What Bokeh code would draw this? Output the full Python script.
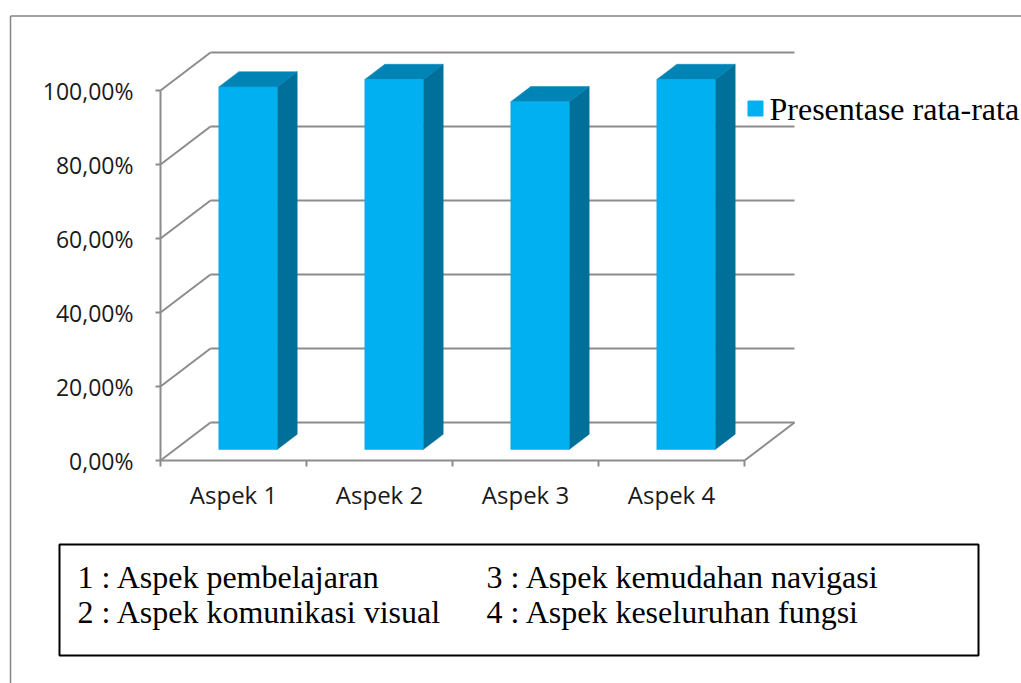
from bokeh.plotting import figure
from bokeh.models import Range1d, ColumnDataSource
from bokeh.core.properties import value
from bokeh.embed import file_html
from bokeh.resources import INLINE

# ---------------- data ----------------
categories = ["Aspek 1", "Aspek 2", "Aspek 3", "Aspek 4"]
percentages = [98.0, 100.0, 94.0, 100.0]
y_ticks = [0, 20, 40, 60, 80, 100]
y_tick_labels = ["0,00%", "20,00%", "40,00%", "60,00%", "80,00%", "100,00%"]
series_name = "Presentase rata-rata"
note_col1 = ["1 : Aspek pembelajaran", "2 : Aspek komunikasi visual"]
note_col2 = ["3 : Aspek kemudahan navigasi", "4 : Aspek keseluruhan fungsi"]

# ---------------- layout ----------------
W, H = 1021, 683
OFF = 0
X0, UX = 160.0, 146.0     # px of category origin, px per category
Y0, UY = 460.0, 3.7       # px of 0 %, px per percent
DX, DY = 50.0 / UX, 38.0 / UY  # depth offsets (data units)
D1, D2 = 0.29, 0.69       # bar front/back depth fraction
HW = 0.2                  # bar half width (category units)

def dx(px):
    return (px - X0) / UX

def dy(py):
    return (Y0 - py) / UY

p = figure(width=W, height=H, output_backend="svg", toolbar_location=None,
           x_range=Range1d(dx(OFF), dx(OFF + W)),
           y_range=Range1d(dy(OFF + H), dy(OFF)),
           x_axis_location=None, y_axis_location=None,
           min_border=0, min_border_left=0, min_border_right=0,
           min_border_top=0, min_border_bottom=0)
p.grid.visible = False
p.outline_line_color = None
p.background_fill_color = "white"
p.border_fill_color = "white"

GRID = "#8c8c8c"
n = len(categories)

# chart area border (top and left edges; the rest lies outside the picture)
p.multi_line([[dx(10), dx(1100)], [dx(10), dx(10)]],
             [[dy(15.5), dy(15.5)], [dy(15.5), dy(800)]],
             line_color="#858585", line_width=1.5)

# back wall gridlines + left wall diagonals
gx, gy = [], []
for t in y_ticks:
    gx.append([DX, n + DX]); gy.append([t + DY, t + DY])
    gx.append([0, DX]); gy.append([t, t + DY])
# floor front and right edges
gx.append([0, n]); gy.append([0, 0])
gx.append([n, n + DX]); gy.append([0, DY])
# front vertical axis
gx.append([0, 0]); gy.append([0, y_ticks[-1]])
# y tick marks
for t in y_ticks:
    gx.append([dx(155), 0]); gy.append([t, t])
# x tick marks
for i in range(n + 1):
    gx.append([i, i]); gy.append([0, dy(466)])
p.multi_line(gx, gy, line_color=GRID, line_width=2)

# 3D bars
front = dict(left=[], right=[], bottom=[], top=[])
side_x, side_y, top_x, top_y = [], [], [], []
for i, v in enumerate(percentages):
    c = i + 0.5
    l1, r1 = c - HW + D1 * DX, c + HW + D1 * DX
    l2, r2 = c - HW + D2 * DX, c + HW + D2 * DX
    b1, b2 = D1 * DY, D2 * DY
    front["left"].append(l1); front["right"].append(r1)
    front["bottom"].append(b1); front["top"].append(v + b1)
    side_x.append([r1, r2, r2, r1]); side_y.append([b1, b2, v + b2, v + b1])
    top_x.append([l1, r1, r2, l2]); top_y.append([v + b1, v + b1, v + b2, v + b2])

p.patches(side_x, side_y, fill_color="#006f99", line_color="#006f99", line_width=0.5)
p.patches(top_x, top_y, fill_color="#0084b6", line_color="#0084b6", line_width=0.5)
p.quad(source=ColumnDataSource(front), left="left", right="right", bottom="bottom", top="top",
       fill_color="#00b0f0", line_color="#00a8e6", line_width=0.5)

# y tick labels
p.text(x=[dx(133)] * len(y_ticks), y=y_ticks, text=y_tick_labels,
       text_font=value("Open Sans"), text_font_size="23px", text_color="#1a1a1a",
       text_align="right", text_baseline="middle")
# category labels
p.text(x=[i + 0.5 for i in range(n)], y=[dy(494)] * n, text=categories,
       text_font=value("Open Sans"), text_font_size="24px", text_color="#1a1a1a",
       text_align="center", text_baseline="middle")

# legend
p.scatter(x=[dx(755)], y=[dy(108)], marker="square", size=15,
          fill_color="#00b0f0", line_color="#00b0f0")
p.text(x=[dx(769)], y=[dy(108)], text=[series_name],
       text_font=value("Liberation Serif"), text_font_size="32px", text_color="black",
       text_align="left", text_baseline="middle")

# note box
p.quad(left=[dx(59)], right=[dx(978)], top=[dy(544)], bottom=[dy(655)],
       fill_color=None, line_color="black", line_width=2)
p.text(x=[dx(77)] * 2, y=[dy(576), dy(611)], text=note_col1,
       text_font=value("Liberation Serif"), text_font_size="32px", text_color="black",
       text_align="left", text_baseline="middle")
p.text(x=[dx(486)] * 2, y=[dy(576), dy(611)], text=note_col2,
       text_font=value("Liberation Serif"), text_font_size="32px", text_color="black",
       text_align="left", text_baseline="middle")

open("out.html", "w").write(file_html(p, INLINE))
